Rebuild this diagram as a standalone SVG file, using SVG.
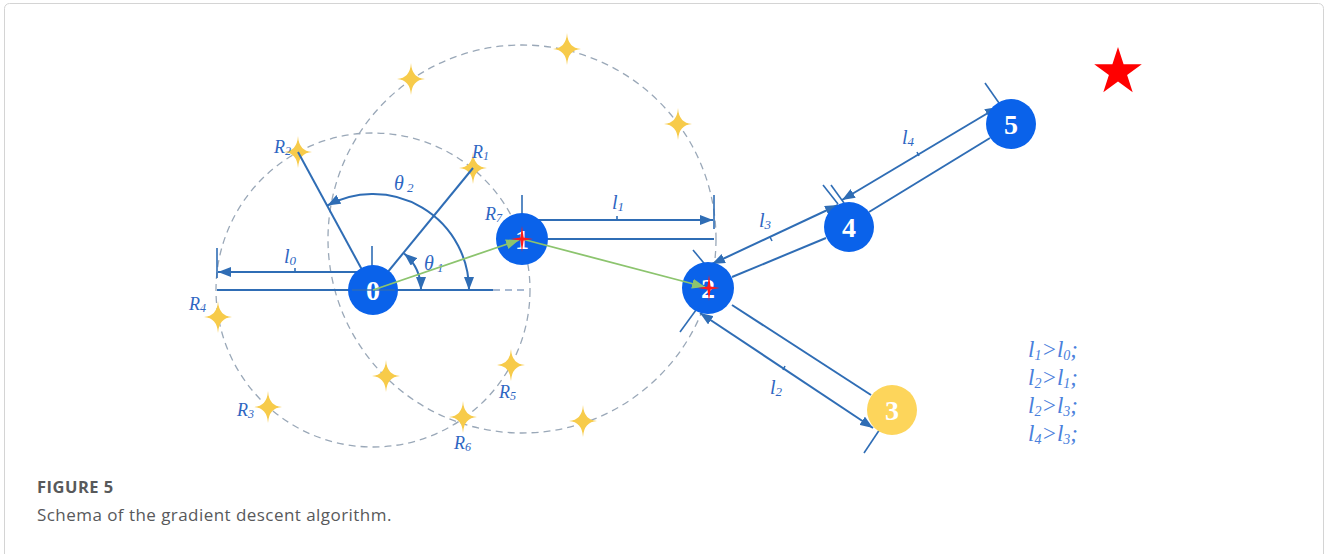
<svg xmlns="http://www.w3.org/2000/svg" width="1328" height="554" viewBox="0 0 1328 554">
<style>
.circ{fill:none;stroke:#9aa8b8;stroke-width:1.3;stroke-dasharray:7 5}
.ln{fill:none;stroke:#2f6db5;stroke-width:2}
.tk{fill:none;stroke:#2f6db5;stroke-width:1.6}
.da{fill:none;stroke:#2f6db5;stroke-width:2;marker-start:url(#arr);marker-end:url(#arr)}
.ga{fill:none;stroke:#8cc46e;stroke-width:1.8;marker-end:url(#garr)}
.node{fill:#0a62ea}
.nt{font-family:"Liberation Serif",serif;font-weight:bold;font-size:28px;fill:#fff;text-anchor:middle}
.lab{font-family:"Liberation Serif",serif;font-style:italic;font-size:20px;fill:#2e66c2}
.rl{font-family:"Liberation Serif",serif;font-style:italic;font-size:18px;fill:#2e66c2}
.leg{font-family:"Liberation Serif",serif;font-style:italic;font-size:23px;fill:#4a80dc}
.cap1{font-family:"Open Sans",sans-serif;font-weight:bold;font-size:16.5px;letter-spacing:0.5px;fill:#58595b}
.cap2{font-family:"Open Sans",sans-serif;font-size:17px;letter-spacing:0.45px;fill:#58595b}
.spark{fill:#f7cb4a}
.rx{fill:#ff1a1a}
</style>
<defs>
<marker id="arr" markerUnits="userSpaceOnUse" markerWidth="14" markerHeight="10" refX="13" refY="5" orient="auto-start-reverse"><path d="M0,0 L13,5 L0,10 Z" fill="#2f6db5"/></marker>
<marker id="garr" markerUnits="userSpaceOnUse" markerWidth="14" markerHeight="10" refX="13" refY="5" orient="auto"><path d="M0,0 L13,5 L0,10 Z" fill="#8cc46e"/></marker>
<path id="sp" d="M0,-16 Q0.9,-0.9 14,0 Q0.9,0.9 0,16 Q-0.9,0.9 -14,0 Q-0.9,-0.9 0,-16 Z"/>
<path id="rc" d="M0,-13 L1.6,-1.6 L11,0 L1.6,1.6 L0,13 L-1.6,1.6 L-11,0 L-1.6,-1.6 Z"/>
</defs>
<rect x="4.5" y="3.5" width="1319" height="620" rx="5" fill="#fff" stroke="#d4d4d4" stroke-width="1"/>

<g id="search-circles">
<circle class="circ" cx="373" cy="290" r="157"/>
<circle class="circ" cx="522" cy="239" r="194"/>
</g>

<g id="candidates" class="spark">
<use href="#sp" x="473" y="168"/>
<use href="#sp" x="298" y="152"/>
<use href="#sp" x="218" y="317"/>
<use href="#sp" x="268" y="407"/>
<use href="#sp" x="511" y="365"/>
<use href="#sp" x="463" y="417"/>
<use href="#sp" x="386" y="376"/>
<use href="#sp" x="583" y="421"/>
<use href="#sp" x="411" y="79"/>
<use href="#sp" x="567" y="49"/>
<use href="#sp" x="678" y="124"/>
</g>

<g id="connectors">
<line class="ln" x1="217" y1="290" x2="493" y2="290"/>
<line x1="493" y1="290" x2="528" y2="290" stroke="#8aa2c4" stroke-width="1.4" stroke-dasharray="7 5"/>
<line class="tk" x1="217" y1="248" x2="217" y2="278"/>
<line class="tk" x1="372" y1="246" x2="372" y2="268"/>
<line class="ln" x1="373" y1="272" x2="218" y2="272" marker-end="url(#arr)"/>
<line class="tk" x1="295" y1="268" x2="295" y2="272"/>
<line class="ln" x1="373" y1="290" x2="298" y2="152"/>
<line class="ln" x1="373" y1="290" x2="473" y2="168"/>
<path class="da" d="M327.4,205.5 A96,96 0 0 1 469,290"/>
<path class="da" d="M421,290 A48,48 0 0 0 404.1,253.4"/>
<line class="tk" x1="522" y1="195" x2="522" y2="214"/>
<line class="ln" x1="532" y1="220" x2="713" y2="220" marker-end="url(#arr)"/>
<line class="ln" x1="540" y1="239" x2="714" y2="239"/>
<line class="tk" x1="714" y1="195" x2="714" y2="229"/>
<line class="tk" x1="617" y1="216" x2="617" y2="220"/>
<line class="da" x1="700" y1="313" x2="873" y2="428"/>
<line class="ln" x1="732" y1="305" x2="871" y2="395"/>
<line class="tk" x1="680" y1="332" x2="696" y2="310"/>
<line class="tk" x1="864" y1="453" x2="886" y2="420"/>
<line class="tk" x1="785" y1="366" x2="783" y2="370"/>
<line class="da" x1="712" y1="264" x2="838" y2="205"/>
<line class="ln" x1="732" y1="277" x2="826" y2="238"/>
<line class="tk" x1="693" y1="250" x2="708" y2="268"/>
<line class="tk" x1="823" y1="185" x2="838" y2="204"/>
<line class="tk" x1="770" y1="237" x2="772" y2="241"/>
<line class="da" x1="842" y1="200" x2="998" y2="107"/>
<line class="ln" x1="869" y1="212" x2="990" y2="138"/>
<line class="tk" x1="831" y1="185" x2="844" y2="203"/>
<line class="tk" x1="985" y1="83" x2="999" y2="103"/>
<line class="tk" x1="917" y1="152" x2="919" y2="156"/>
</g>

<g id="labels">
<text class="lab" x="284" y="263">l<tspan font-size="13" dy="2">0</tspan></text>
<text class="lab" x="612" y="209">l<tspan font-size="13" dy="2">1</tspan></text>
<text class="lab" x="770" y="394">l<tspan font-size="13" dy="2">2</tspan></text>
<text class="lab" x="759" y="227">l<tspan font-size="13" dy="2">3</tspan></text>
<text class="lab" x="902" y="144">l<tspan font-size="13" dy="2">4</tspan></text>
<text class="lab" x="394" y="190" font-size="21">θ<tspan font-size="13" dy="2"> 2</tspan></text>
<text class="lab" x="424" y="270" font-size="21">θ<tspan font-size="13" dy="2"> 1</tspan></text>
<text class="rl" x="472" y="158">R<tspan font-size="12" dy="2">1</tspan></text>
<text class="rl" x="274" y="153">R<tspan font-size="12" dy="2">2</tspan></text>
<text class="rl" x="237" y="416">R<tspan font-size="12" dy="2">3</tspan></text>
<text class="rl" x="189" y="310">R<tspan font-size="12" dy="2">4</tspan></text>
<text class="rl" x="499" y="398">R<tspan font-size="12" dy="2">5</tspan></text>
<text class="rl" x="454" y="449">R<tspan font-size="12" dy="2">6</tspan></text>
<text class="rl" x="485" y="220">R<tspan font-size="12" dy="2">7</tspan></text>
</g>

<g id="node0"><circle class="node" cx="373" cy="290" r="25"/><text class="nt" x="373" y="300">0</text><line x1="352" y1="290" x2="395" y2="290" stroke="#2f6db5" stroke-width="2" opacity="0.7"/></g>
<g id="node1"><circle class="node" cx="522" cy="239" r="26"/><text class="nt" x="522" y="249">1</text></g>
<g id="node2"><circle class="node" cx="708" cy="288" r="26"/><text class="nt" x="708" y="298">2</text></g>
<g id="node3"><circle cx="892" cy="410" r="25" fill="#fdd55b"/><text class="nt" x="892" y="420">3</text></g>
<g id="node4"><circle class="node" cx="849" cy="227" r="25"/><text class="nt" x="849" y="237">4</text></g>
<g id="node5"><circle class="node" cx="1011" cy="124" r="25"/><text class="nt" x="1011" y="134">5</text></g>

<g id="descent-path">
<line class="ga" x1="373" y1="290" x2="519" y2="240"/>
<line class="ga" x1="522" y1="239" x2="705" y2="287"/>
<use href="#rc" class="rx" x="522" y="239"/>
<use href="#rc" class="rx" x="709" y="288"/>
</g>

<g id="target"><path d="M1118,47 L1123.6,64.3 L1141.8,64.3 L1127.1,75 L1132.7,92.3 L1118,81.6 L1103.3,92.3 L1108.9,75 L1094.2,64.3 L1112.4,64.3 Z" fill="#f00"/></g>

<g id="legend">
<text class="leg" x="1028" y="357">l<tspan font-size="14" dy="3">1</tspan><tspan dy="-3">&gt;l</tspan><tspan font-size="14" dy="3">0</tspan><tspan dy="-3">;</tspan></text>
<text class="leg" x="1028" y="385">l<tspan font-size="14" dy="3">2</tspan><tspan dy="-3">&gt;l</tspan><tspan font-size="14" dy="3">1</tspan><tspan dy="-3">;</tspan></text>
<text class="leg" x="1028" y="413">l<tspan font-size="14" dy="3">2</tspan><tspan dy="-3">&gt;l</tspan><tspan font-size="14" dy="3">3</tspan><tspan dy="-3">;</tspan></text>
<text class="leg" x="1028" y="441">l<tspan font-size="14" dy="3">4</tspan><tspan dy="-3">&gt;l</tspan><tspan font-size="14" dy="3">3</tspan><tspan dy="-3">;</tspan></text>
</g>

<g id="caption">
<text class="cap1" x="37" y="493">FIGURE 5</text>
<text class="cap2" x="37" y="521">Schema of the gradient descent algorithm.</text>
</g>
</svg>
